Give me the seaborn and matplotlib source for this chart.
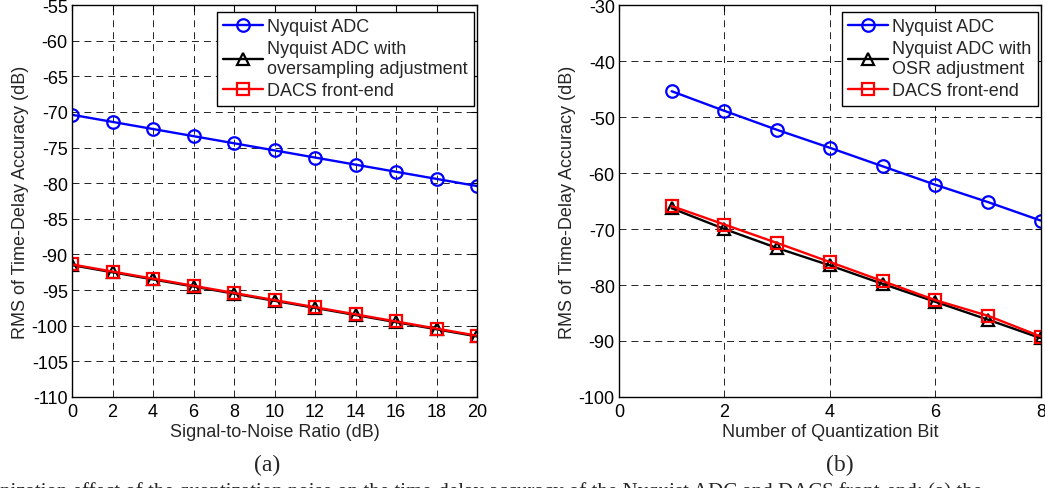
import matplotlib
matplotlib.use("Agg")
import matplotlib.pyplot as plt
import seaborn as sns
import pandas as pd

# ---- data ----
snr_db = [0, 2, 4, 6, 8, 10, 12, 14, 16, 18, 20]
snr_nyquist = [-70.4, -71.4, -72.4, -73.4, -74.4, -75.4, -76.4, -77.4, -78.4, -79.4, -80.4]
snr_nyquist_osr = [-91.5, -92.5, -93.5, -94.5, -95.5, -96.5, -97.5, -98.5, -99.5, -100.5, -101.5]
snr_dacs = [-91.4, -92.4, -93.4, -94.4, -95.4, -96.4, -97.4, -98.4, -99.4, -100.4, -101.4]

bits = [1, 2, 3, 4, 5, 6, 7, 8]
bit_nyquist = [-45.4, -48.9, -52.3, -55.5, -58.8, -62.1, -65.2, -68.5]
bit_nyquist_osr = [-66.3, -70.0, -73.4, -76.5, -79.8, -83.0, -86.2, -89.5]
bit_dacs = [-65.9, -69.2, -72.5, -75.9, -79.3, -82.7, -85.5, -89.2]

labels_a = ["Nyquist ADC", "Nyquist ADC with\noversampling adjustment", "DACS front-end"]
labels_b = ["Nyquist ADC", "Nyquist ADC with\nOSR adjustment", "DACS front-end"]

snr_ticks = [0, 2, 4, 6, 8, 10, 12, 14, 16, 18, 20]
snr_yticks = [-110, -105, -100, -95, -90, -85, -80, -75, -70, -65, -60, -55]
bit_ticks = [0, 2, 4, 6, 8]
bit_yticks = [-100, -90, -80, -70, -60, -50, -40, -30]

caption_a = "(a)"
caption_b = "(b)"
caption_line = ("nization effect of the quantization noise on the time-delay accuracy "
                "of the Nyquist ADC and DACS front-end: (a) the")

FS = 13

sns.set_theme(style="white")
plt.rcParams["font.family"] = ["Liberation Sans", "DejaVu Sans"]
plt.rcParams["lines.scale_dashes"] = False

fig = plt.figure(figsize=(10.45, 4.89), dpi=100)
ax1 = fig.add_axes([0.0689, 0.1861, 0.3876, 0.8016])
ax2 = fig.add_axes([0.5923, 0.1861, 0.4037, 0.8016])

styles = [
    dict(color="#0000ff", marker="o", markersize=9, markerfacecolor="none",
         markeredgecolor="#0000ff", markeredgewidth=1.6),
    dict(color="#000000", marker="^", markersize=8.5, markerfacecolor="none",
         markeredgecolor="#000000", markeredgewidth=1.6),
    dict(color="#ff0000", marker="s", markersize=8.5, markerfacecolor="none",
         markeredgecolor="#ff0000", markeredgewidth=1.6),
]

def draw(ax, x, series, labels):
    for ys, lab, st in zip(series, labels, styles):
        df = pd.DataFrame({"x": x, "y": ys})
        sns.lineplot(data=df, x="x", y="y", ax=ax, label=lab, linewidth=1.7, **st)

draw(ax1, snr_db, [snr_nyquist, snr_nyquist_osr, snr_dacs], labels_a)
draw(ax2, bits, [bit_nyquist, bit_nyquist_osr, bit_dacs], labels_b)

def style_axes(ax, xt, yt, xlim, ylim, xlabel):
    ax.set_xlim(*xlim)
    ax.set_ylim(*ylim)
    ax.set_xticks(xt)
    ax.set_yticks(yt)
    ax.set_xticklabels([str(v) for v in xt])
    ax.set_yticklabels([str(v) for v in yt])
    ax.set_xlabel(xlabel, fontsize=FS, labelpad=2)
    ax.set_ylabel("RMS of Time-Delay Accuracy (dB)", fontsize=FS, labelpad=2)
    ax.grid(True, color="#222222", linestyle=(0, (5, 3.6)), linewidth=0.7)
    ax.tick_params(direction="in", length=4, width=0.8, top=True, right=True,
                   labelsize=FS, colors="black")
    ax.tick_params(axis="x", pad=4.5)
    ax.tick_params(axis="y", pad=3)
    for s in ax.spines.values():
        s.set_color("black")
        s.set_linewidth(1.0)
    ax.set_facecolor("white")

style_axes(ax1, snr_ticks, snr_yticks, (0, 20), (-110, -55), "Signal-to-Noise Ratio (dB)")
style_axes(ax2, bit_ticks, bit_yticks, (0, 8), (-100, -30), "Number of Quantization Bit")

for ax in (ax1, ax2):
    leg = ax.legend(loc="upper right", bbox_to_anchor=(0.993, 0.983), fontsize=FS,
                    frameon=True, fancybox=False, framealpha=1, edgecolor="black",
                    handlelength=2.2, handletextpad=0.25, borderpad=0.35,
                    labelspacing=0.3, borderaxespad=0.0)
    leg.get_frame().set_linewidth(1.0)

serif = ["Liberation Serif", "DejaVu Serif"]
fig.text(0.256, 0.049, caption_a, ha="center", va="center", fontsize=17, family=serif)
fig.text(0.804, 0.049, caption_b, ha="center", va="center", fontsize=17, family=serif)
fig.text(0.0, -0.016, caption_line, ha="left", va="baseline", fontsize=15, family=serif)

fig.savefig("out.png", dpi=100, facecolor="white")
